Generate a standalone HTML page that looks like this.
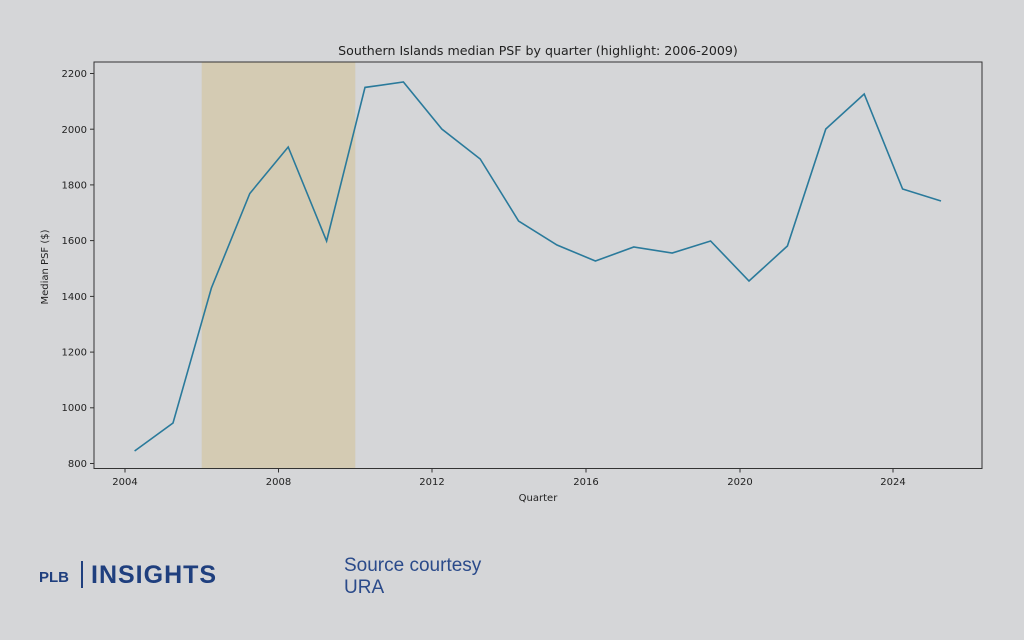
<!DOCTYPE html>
<html><head><meta charset="utf-8"><style>
html,body{margin:0;padding:0;background:#d5d6d8;}
svg{display:block;}
</style></head><body>
<svg width="1024" height="640" viewBox="0 0 1024 640" xmlns="http://www.w3.org/2000/svg" font-family="DejaVu Sans, sans-serif">
<rect width="1024" height="640" fill="#d5d6d8"/>
<rect x="201.7" y="62" width="153.6" height="406" fill="#d4cbb3"/>
<polyline fill="none" stroke="#2a7a9b" stroke-width="1.6" stroke-linejoin="miter" points="134.6,451 173,423 211.4,288 249.8,193.5 288.2,147 326.6,241 365,87.4 403.4,82 441.8,129 480.2,159 518.6,221 557,245 595.4,261 633.8,247 672.2,253 710.6,241 749,281 787.4,246 825.8,129 864.2,94 902.6,189 941,201"/>
<rect x="94" y="62" width="888" height="406.5" fill="none" stroke="#333" stroke-width="1"/>
<g stroke="#333" stroke-width="1">
<line x1="90" y1="73.5" x2="94" y2="73.5"/><line x1="90" y1="129.2" x2="94" y2="129.2"/><line x1="90" y1="184.9" x2="94" y2="184.9"/><line x1="90" y1="240.6" x2="94" y2="240.6"/><line x1="90" y1="296.4" x2="94" y2="296.4"/><line x1="90" y1="352.1" x2="94" y2="352.1"/><line x1="90" y1="407.8" x2="94" y2="407.8"/><line x1="90" y1="463.5" x2="94" y2="463.5"/>
<line x1="125" y1="468.5" x2="125" y2="472.5"/><line x1="278.5" y1="468.5" x2="278.5" y2="472.5"/><line x1="432" y1="468.5" x2="432" y2="472.5"/><line x1="586" y1="468.5" x2="586" y2="472.5"/><line x1="740" y1="468.5" x2="740" y2="472.5"/><line x1="893" y1="468.5" x2="893" y2="472.5"/>
</g>
<g font-size="10" fill="#222" text-anchor="end">
<text x="87" y="77">2200</text><text x="87" y="133">2000</text><text x="87" y="188.5">1800</text><text x="87" y="244">1600</text><text x="87" y="300">1400</text><text x="87" y="355.5">1200</text><text x="87" y="411">1000</text><text x="87" y="467">800</text>
</g>
<g font-size="10" fill="#222" text-anchor="middle">
<text x="125" y="485">2004</text><text x="278.5" y="485">2008</text><text x="432" y="485">2012</text><text x="586" y="485">2016</text><text x="740" y="485">2020</text><text x="893" y="485">2024</text>
<text x="538" y="501">Quarter</text>
<text x="538" y="55" font-size="12.6">Southern Islands median PSF by quarter (highlight: 2006-2009)</text>
<text transform="translate(48,267) rotate(-90)">Median PSF ($)</text>
</g>
<g fill="#1f3f7e" font-family="Liberation Sans, sans-serif" font-weight="bold">
<text x="39" y="582" font-size="15">PLB</text>
<rect x="81" y="561" width="2" height="27"/>
<text x="91" y="583" font-size="25" letter-spacing="1">INSIGHTS</text>
</g>
<g fill="#2a4a8a" font-family="Liberation Sans, sans-serif" font-size="19">
<text x="344" y="571">Source courtesy</text>
<text x="344" y="593">URA</text>
</g>
</svg>
</body></html>
